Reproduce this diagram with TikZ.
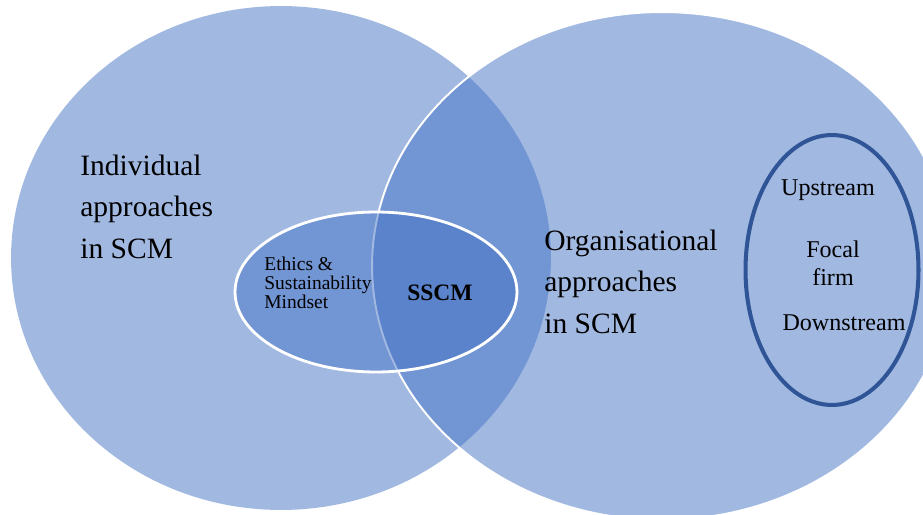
\documentclass[tikz,border=0pt]{standalone}
\usepackage{fontspec}
\setmainfont{Liberation Serif}
\usetikzlibrary{shapes.geometric, positioning}
\definecolor{vennblue}{HTML}{4472C4}
\definecolor{rimblue}{HTML}{2F5597}

\begin{document}
\begin{tikzpicture}[
        x = 0.02cm, y = -0.02cm,
  set/.style = {ellipse, inner sep=0pt, fill=vennblue, fill opacity=0.5},
  big/.style = {inner sep=0pt, align=left, font=\fontsize{16.8}{23.6}\selectfont},
  small/.style = {inner sep=0pt, align=left, font=\fontsize{11.1}{10.8}\selectfont},
  chn/.style = {inner sep=0pt, align=center, font=\fontsize{13.7}{15.9}\selectfont}
                    ]
\useasboundingbox (0,0) rectangle (923,514);
% the two sets and the overlap
\node (indiv) [set, minimum width=10.8cm, minimum height=10.08cm] at (281,258) {};
\node (org) [set, draw=white, line width=1.1pt, minimum width=11.6cm, minimum height=10.16cm] at (662,266) {};
\node (mindset) [set, draw=white, line width=1.6pt, minimum width=5.64cm, minimum height=3.2cm] at (376,292) {};
\node (chain) [ellipse, draw=rimblue, line width=2.3pt, minimum width=3.46cm, minimum height=5.4cm] at (832,270) {};
% labels (base = last line)
\node (indivtext) [big, anchor=base west] at (80,258) {Individual\\approaches\\in SCM};
\node (orgtext) [big, anchor=base west] at (544,333) {Organisational\\approaches\\in SCM};
\node (ethics) [small, anchor=base west] at (264,308) {Ethics \&\\Sustainability\\Mindset};
\node (sscm) [inner sep=0pt, anchor=base, font=\fontsize{13.4}{16}\selectfont\bfseries] at (440,300) {SSCM};
\node (up) [chn, anchor=base] at (828,195) {Upstream};
\node (focal) [chn, anchor=base] at (833,285) {Focal\\firm};
\node (down) [chn, anchor=base] at (844,330) {Downstream};
\end{tikzpicture}
\end{document}
